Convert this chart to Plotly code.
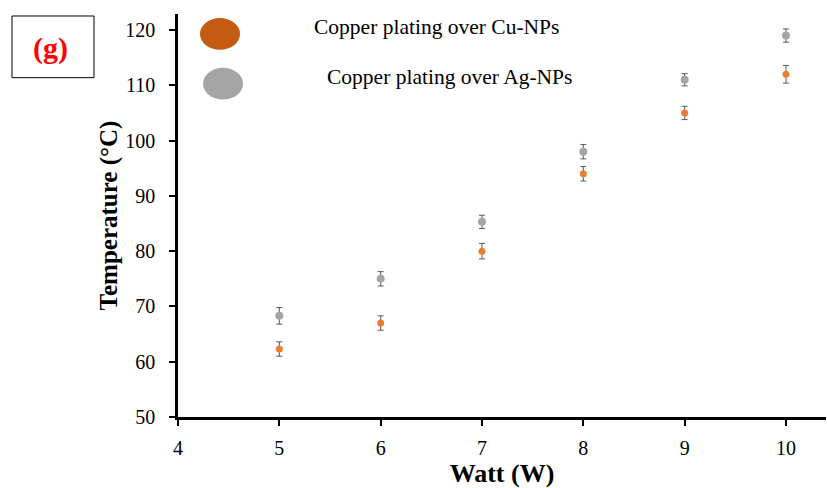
import plotly.graph_objects as go

watts = [5, 6, 7, 8, 9, 10]
temp_cu = [62.3, 67.0, 80.0, 94.0, 105.0, 112.0]
temp_ag = [68.3, 75.0, 85.3, 98.0, 111.0, 119.0]
err_cu = [1.3, 1.3, 1.4, 1.3, 1.2, 1.6]
err_ag = [1.5, 1.3, 1.2, 1.3, 1.1, 1.2]
labels = ["Copper plating over Cu-NPs", "Copper plating over Ag-NPs"]

W, H = 827, 488
L, R, T, B = 178, 1, 14, 69
pw, ph = W - L - R, H - T - B


def px(x):
    return (x - L) / pw


def py(y):
    return (H - B - y) / ph


serif = "Liberation Serif, Times New Roman, serif"
err_style = dict(type="data", thickness=1, width=3, color="#595959")

fig = go.Figure()
fig.add_trace(go.Scatter(
    x=watts, y=temp_ag, mode="markers", name=labels[1],
    marker=dict(color="#A5A5A5", size=8),
    error_y=dict(array=err_ag, **err_style), showlegend=False))
fig.add_trace(go.Scatter(
    x=watts, y=temp_cu, mode="markers", name=labels[0],
    marker=dict(color="#ED7D31", size=7),
    error_y=dict(array=err_cu, **err_style), showlegend=False))

shapes = [
    dict(type="circle", xref="paper", yref="paper",
         x0=px(200), x1=px(240), y0=py(50), y1=py(18),
         fillcolor="#C55A11", line=dict(width=0)),
    dict(type="circle", xref="paper", yref="paper",
         x0=px(203), x1=px(243), y0=py(100), y1=py(68),
         fillcolor="#A5A5A5", line=dict(width=0)),
    dict(type="rect", xref="paper", yref="paper",
         x0=px(12), x1=px(94), y0=py(78), y1=py(16),
         fillcolor="white", line=dict(color="black", width=1)),
]

annotations = [
    dict(text=labels[0], xref="paper", yref="paper", x=px(312), y=py(27),
         xanchor="left", yanchor="middle", showarrow=False,
         font=dict(family=serif, size=21.5, color="black")),
    dict(text=labels[1], xref="paper", yref="paper", x=px(325), y=py(77),
         xanchor="left", yanchor="middle", showarrow=False,
         font=dict(family=serif, size=21.5, color="black")),
    dict(text="<b>(g)</b>", xref="paper", yref="paper", x=px(50), y=py(48),
         xanchor="center", yanchor="middle", showarrow=False,
         font=dict(family=serif, size=30, color="red")),
]

fig.update_layout(
    width=W, height=H,
    margin=dict(l=L, r=R, t=T, b=B, pad=0),
    paper_bgcolor="white", plot_bgcolor="white",
    font=dict(family=serif, size=20, color="black"),
    shapes=shapes, annotations=annotations,
    xaxis=dict(range=[4, 10.395], tickvals=[4, 5, 6, 7, 8, 9, 10],
               showgrid=False, zeroline=False, showline=True,
               linecolor="black", linewidth=2.5, ticks="outside",
               ticklen=6, tickwidth=1.5, tickcolor="black",
               ticklabelstandoff=5,
               tickfont=dict(family=serif, size=20),
               title=dict(text="<b>Watt (W)</b>", standoff=10,
                          font=dict(family=serif, size=26))),
    yaxis=dict(range=[50, 122.9], tickvals=list(range(50, 121, 10)),
               showgrid=False, zeroline=False, showline=True,
               linecolor="black", linewidth=2.5, ticks="outside",
               ticklen=6, tickwidth=1.5, tickcolor="black",
               ticklabelstandoff=10,
               tickfont=dict(family=serif, size=20),
               title=dict(text="<b>Temperature (°C)</b>", standoff=1,
                          font=dict(family=serif, size=25))),
)

fig.write_html("out.html")
